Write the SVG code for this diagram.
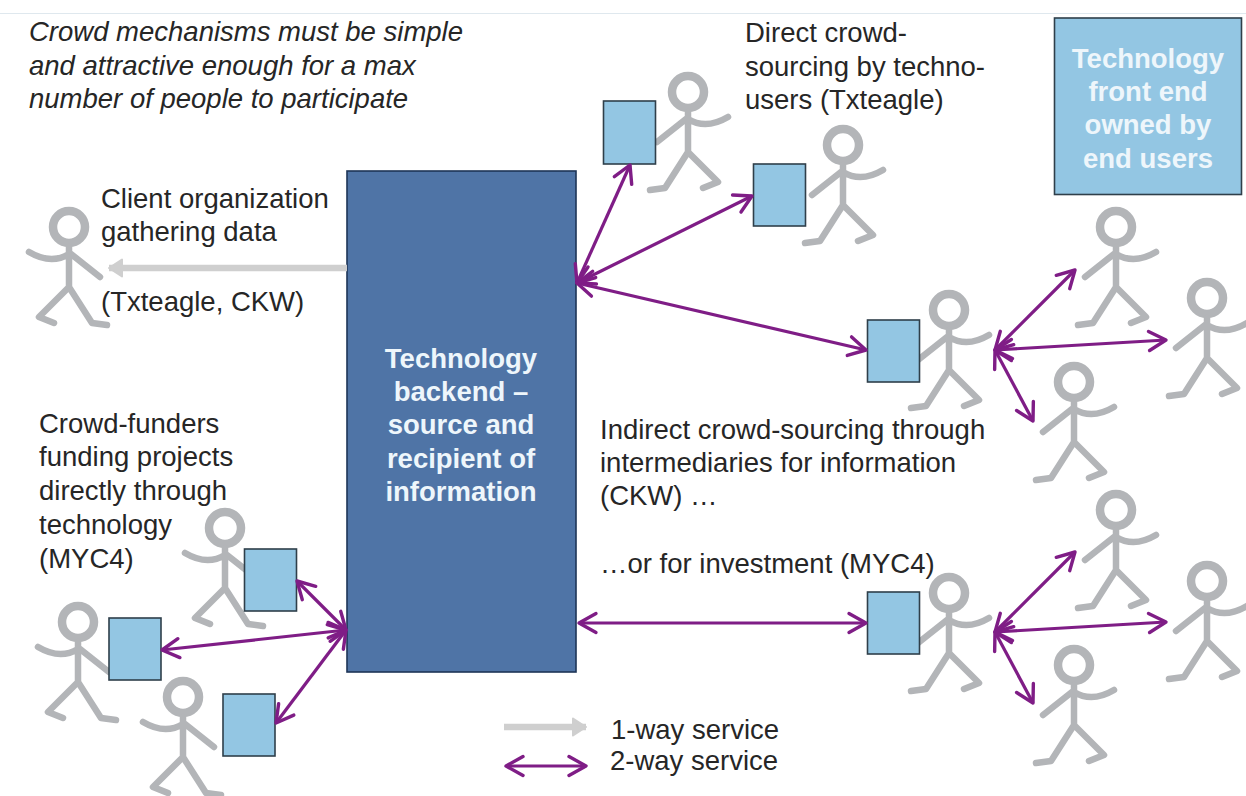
<svg xmlns="http://www.w3.org/2000/svg" width="1246" height="796" viewBox="0 0 1246 796">
<style>
text{font-family:"Liberation Sans",Arial,sans-serif;font-size:27.5px;fill:#262626}
.i{font-style:italic}
.w{font-weight:bold;fill:#eef6fb;text-anchor:middle}
.box{fill:#93c6e3;stroke:#2f3f4a;stroke-width:1.6}
.main{fill:#4f74a6;stroke:#1d3557;stroke-width:1.6}
.p{fill:none;stroke:#b3b5b8;stroke-width:6.5;stroke-linecap:round;stroke-linejoin:round}
.h{fill:none;stroke:#b3b5b8;stroke-width:8.5}
.two{fill:none;stroke:#7f1d86;stroke-width:3.2;marker-start:url(#pv);marker-end:url(#pv)}
.one{fill:none;stroke:#cfcfcf;stroke-width:6.5;marker-end:url(#gv)}
</style>
<defs>
<marker id="pv" viewBox="-20 -12 24 24" refX="0" refY="0" markerUnits="userSpaceOnUse" markerWidth="24" markerHeight="24" orient="auto-start-reverse"><path d="M-17,-9.500L0,0L-17,9.500" fill="none" stroke="#7f1d86" stroke-width="3.4" stroke-linecap="round" stroke-linejoin="round"/></marker>
<marker id="gv" viewBox="-16 -11 18 22" refX="0" refY="0" markerUnits="userSpaceOnUse" markerWidth="18" markerHeight="22" orient="auto"><path d="M-13,-8.5L0,0L-13,8.5Z" fill="#cfcfcf" stroke="#cfcfcf" stroke-width="2" stroke-linejoin="round"/></marker>
<g id="person">
<circle class="h" cx="0" cy="0" r="16"/>
<path class="p" d="M0,20V60M-2,27L-31,50M0,27Q18,38 40,25M0,60L-23,96L-38,98M0,60L30,90L15,96"/>
</g>
</defs>
<rect width="1246" height="796" fill="#fff"/>
<path d="M0,13.500H1246" stroke="#dfe8ee" stroke-width="1"/>

<g id="people">
<use href="#person" transform="translate(688,92)"/>
<use href="#person" transform="translate(843,145)"/>
<use href="#person" transform="translate(949,310)"/>
<use href="#person" transform="translate(1116,227)"/>
<use href="#person" transform="translate(1207,298)"/>
<use href="#person" transform="translate(1074,382)"/>
<use href="#person" transform="translate(949,593)"/>
<use href="#person" transform="translate(1116,510)"/>
<use href="#person" transform="translate(1207,581)"/>
<use href="#person" transform="translate(1074,665)"/>
<use href="#person" transform="translate(69,227) scale(-1,1)"/>
<use href="#person" transform="translate(225,528) scale(-1,1)"/>
<use href="#person" transform="translate(78,622) scale(-1,1)"/>
<use href="#person" transform="translate(183,697) scale(-1,1)"/>
</g>

<g id="backend"><rect class="main" x="347" y="171" width="229" height="501"/>
<text class="w" x="461" y="368">Technology</text><text class="w" x="461" y="401">backend –</text><text class="w" x="461" y="434">source and</text><text class="w" x="461" y="468">recipient of</text><text class="w" x="461" y="501">information</text></g>
<g id="frontend"><rect class="box" x="1054.500" y="18" width="187" height="176.500"/>
<text class="w" x="1148" y="68">Technology</text><text class="w" x="1148" y="101">front end</text><text class="w" x="1148" y="134">owned by</text><text class="w" x="1148" y="168">end users</text></g>
<g id="device1"><rect class="box" x="603.500" y="101" width="52" height="63"/></g>
<g id="device2"><rect class="box" x="753.500" y="164" width="52" height="62"/></g>
<g id="device3"><rect class="box" x="867.500" y="320" width="52" height="62"/></g>
<g id="device4"><rect class="box" x="867.500" y="592" width="52" height="62"/></g>
<g id="device5"><rect class="box" x="244.500" y="549" width="52" height="62"/></g>
<g id="device6"><rect class="box" x="109" y="618" width="52" height="62"/></g>
<g id="device7"><rect class="box" x="223" y="694" width="52" height="62"/></g>

<g id="connectors">
<path class="one" d="M347,268H109"/>
<path class="two" d="M577,283L630,165"/>
<path class="two" d="M577,283L752,196"/>
<path class="two" d="M577,283L866,350"/>
<path class="two" d="M995,350L1075,270"/>
<path class="two" d="M995,350L1166,340"/>
<path class="two" d="M995,350L1033,421"/>
<path class="two" d="M579,623H866"/>
<path class="two" d="M995,632L1075,552"/>
<path class="two" d="M995,632L1166,622"/>
<path class="two" d="M995,632L1033,703"/>
<path class="two" d="M346,630L297,581"/>
<path class="two" d="M346,630L162,650"/>
<path class="two" d="M346,630L276,723"/>
<path class="one" d="M504,727H586"/>
<path class="two" d="M506,766H586"/>
</g>

<g id="labels">
<text class="i" x="29" y="41">Crowd mechanisms must be simple</text>
<text class="i" x="29" y="75">and attractive enough for a max</text>
<text class="i" x="29" y="108">number of people to participate</text>
<text x="745" y="42">Direct crowd-</text>
<text x="745" y="76">sourcing by techno-</text>
<text x="745" y="109">users (Txteagle)</text>
<text x="101" y="208">Client organization</text>
<text x="101" y="241">gathering data</text>
<text x="101" y="311">(Txteagle, CKW)</text>
<text x="39" y="433">Crowd-funders</text>
<text x="39" y="466">funding projects</text>
<text x="39" y="500">directly through</text>
<text x="39" y="534">technology</text>
<text x="39" y="568">(MYC4)</text>
<text x="600" y="439">Indirect crowd-sourcing through</text>
<text x="600" y="472">intermediaries for information</text>
<text x="600" y="505">(CKW) …</text>
<text x="600" y="573">…or for investment (MYC4)</text>
<text x="611" y="739">1-way service</text>
<text x="610" y="770">2-way service</text>
</g>
</svg>
